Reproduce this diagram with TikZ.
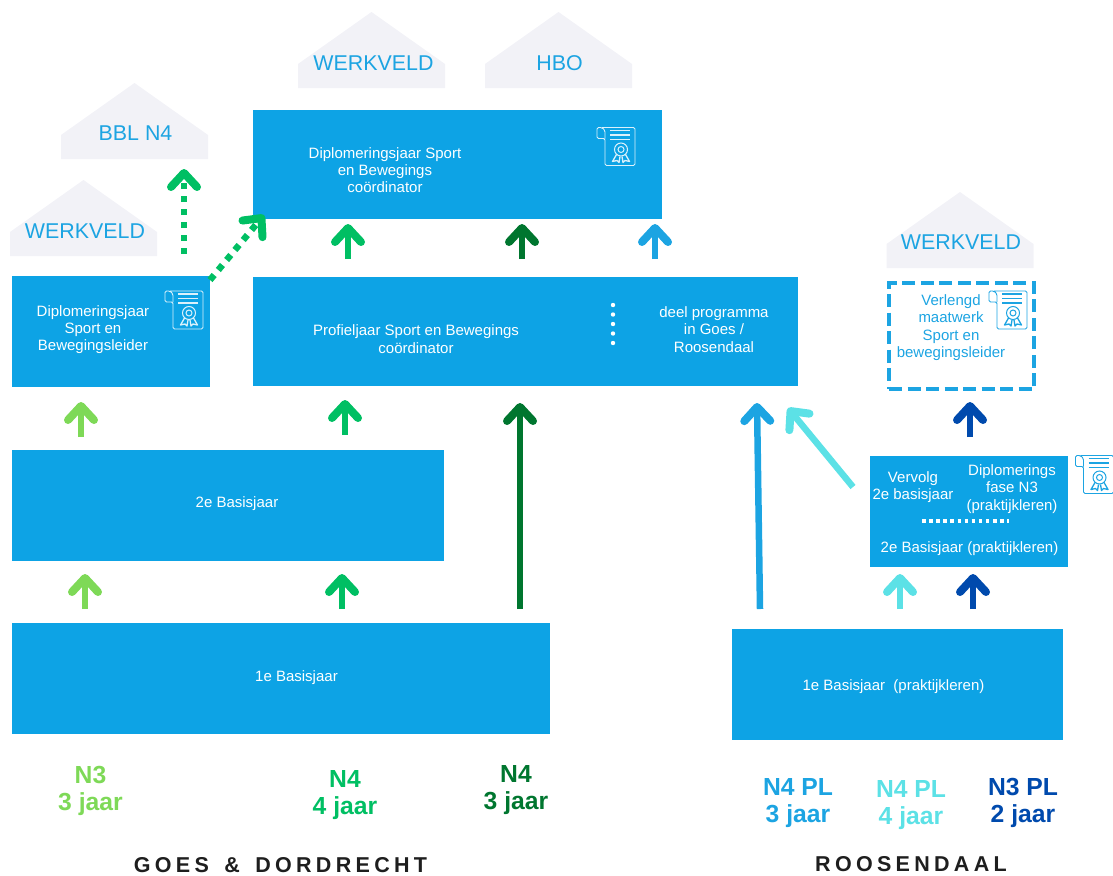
\documentclass[tikz,border=0pt]{standalone}
\usepackage{fontspec}
\setmainfont{Liberation Sans}
\newfontfamily\titlefont[LetterSpace=20,WordSpace=1.5]{Liberation Sans}
\usetikzlibrary{arrows.meta}

\definecolor{boxblue}{HTML}{0DA3E5}
\definecolor{housegrey}{HTML}{F2F2F7}
\definecolor{labelblue}{HTML}{1CA4E2}
\definecolor{ltgreen}{HTML}{7ED957}
\definecolor{midgreen}{HTML}{00BF63}
\definecolor{darkgreen}{HTML}{00762F}
\definecolor{ltcyan}{HTML}{5CE1E6}
\definecolor{navy}{HTML}{004AAD}
\definecolor{titledark}{HTML}{1E1E1E}

\tikzset{
  fase/.style={fill=boxblue,inner sep=0pt,text=white,align=center},
  fasetext/.style={text=white,align=center,font=\fontsize{15}{17.3}\selectfont},
  dest/.style={text=labelblue,font=\fontsize{21.4}{25}\selectfont},
  route/.style={align=center,font=\bfseries\fontsize{24.7}{27}\selectfont},
  region/.style={text=titledark,inner sep=0pt,font=\titlefont\bfseries\fontsize{21.5}{26}\selectfont},
  flow/.style={line width=6.5pt,-{Straight Barb[length=14pt,width=26pt,line width=8pt,round]}},
  dotflow/.style={flow,dash pattern=on 6.5pt off 6.5pt},
  house/.pic={
    \fill[housegrey] (-73.5,38) -- (-73.5,14) -- (0,-38) -- (73.5,14) -- (73.5,38) -- cycle;
  },
  diploma/.pic={
    \draw[line width=0.9pt,rounded corners=1.5pt] (-14,-19) -- (19,-19) -- (19,19) -- (-11,19) -- (-11,-8) -- (-19,-8) -- (-19,-19) -- (-14,-19) -- (-11,-16) -- (-11,-8);
    \draw[line width=1.1pt] (-6,-16) -- (14,-16) (-6,-11.5) -- (14,-11.5) (-6,-7) -- (14,-7);
    \draw[line width=1pt] (5,3) circle (6.5pt) (5,3) circle (3pt);
    \draw[line width=1.3pt,line join=round] (0.5,8) -- (-3.5,15) -- (1,14) -- (3,16) -- (4,10);
    \draw[line width=1.3pt,line join=round] (9.5,8) -- (13.5,15) -- (9,14) -- (7,16) -- (6,10);
  },
}

\begin{document}
\begin{tikzpicture}[x=1pt,y=-1pt]
\useasboundingbox (0,0) rectangle (1113,875);

% bestemmingen
\pic at (83.5,218) {house};
\pic at (134.5,121) {house};
\pic at (371.5,50) {house};
\pic at (558.5,50) {house};
\pic at (960,230) {house};
\node[dest] (werkveldA) at (85,231.5) {WERKVELD};
\node[dest] (bbl) at (135.5,133.5) {BBL N4};
\node[dest] (werkveldB) at (373.5,63.5) {WERKVELD};
\node[dest] (hbo) at (559.5,63.5) {HBO};
\node[dest] (werkveldC) at (961,242.5) {WERKVELD};

% blokken
\node[fase,minimum width=409pt,minimum height=109pt] (diplCo) at (457.5,164.5) {};
\node[fase,minimum width=545pt,minimum height=109pt] (profiel) at (525.5,331.5) {};
\node[fase,minimum width=198pt,minimum height=111pt] (diplLeider) at (111,331.5) {};
\node[fase,minimum width=432pt,minimum height=111pt] (basisB) at (228,505.5) {};
\node[fase,minimum width=538pt,minimum height=111pt] (basisA) at (281,678.5) {};
\node[fase,minimum width=331pt,minimum height=111pt] (praktA) at (897.5,684.5) {};
\node[fase,minimum width=198pt,minimum height=111pt] (praktB) at (969,511.5) {};
\node[draw=labelblue,line width=4pt,dash pattern=on 13pt off 5.5pt,minimum width=145pt,minimum height=106pt,inner sep=0pt] (maatwerk) at (961.5,336) {};

% teksten in de blokken
\node[fasetext] (diplCoText) at (385,170) {Diplomeringsjaar Sport\\en Bewegings\\coördinator};
\node[fasetext] (profielText) at (416,339) {Profieljaar Sport en Bewegings\\coördinator};
\node[fasetext] (deelText) at (714,329.5) {deel programma\\in Goes /\\Roosendaal};
\node[fasetext] (diplLeiderText) at (93,329.5) {Diplomeringsjaar\\Sport en\\Bewegingsleider};
\node[fasetext] (basisBText) at (237,504) {2e Basisjaar};
\node[fasetext] (basisAText) at (296.5,677.5) {1e Basisjaar};
\node[fasetext] (praktAText) at (893.5,687) {1e Basisjaar~~(praktijkleren)};
\node[fasetext] (vervolgText) at (913,487) {Vervolg\\2e basisjaar};
\node[fasetext] (faseText) at (1012,489) {Diplomerings\\fase N3\\(praktijkleren)};
\node[fasetext] (praktBText) at (969.5,549) {2e Basisjaar (praktijkleren)};
\node[fasetext,text=labelblue] (maatwerkText) at (951,327.5) {Verlengd\\maatwerk\\Sport en\\bewegingsleider};

% diploma's
\pic[color=white!85!boxblue] at (184,310) {diploma};
\pic[color=white!85!boxblue] at (616,146.5) {diploma};
\pic[color=labelblue] at (1008,310) {diploma};
\pic[color=labelblue] at (1094.5,474.5) {diploma};

% stippels in de blokken
\coordinate (stipA) at (613,305);
\coordinate (stipB) at (613,347);
\draw[white,line width=4.4pt,line cap=round,dash pattern=on 0pt off 9.5pt] (stipA) -- (stipB);
\coordinate (stipC) at (922,521);
\coordinate (stipD) at (1009,521);
\draw[white,line width=3.5pt,dash pattern=on 3.5pt off 3.6pt] (stipC) -- (stipD);

% pijlen
\coordinate (a1) at (85,609);   \coordinate (a2) at (85,574);
\draw[flow,ltgreen] (a1) -- (a2);
\coordinate (b1) at (81,437);   \coordinate (b2) at (81,402);
\draw[flow,ltgreen] (b1) -- (b2);
\coordinate (c1) at (342,609);  \coordinate (c2) at (342,574);
\draw[flow,midgreen] (c1) -- (c2);
\coordinate (d1) at (345,435);  \coordinate (d2) at (345,400);
\draw[flow,midgreen] (d1) -- (d2);
\coordinate (e1) at (520,609);  \coordinate (e2) at (520,403);
\draw[flow,darkgreen] (e1) -- (e2);
\coordinate (f1) at (348,259);  \coordinate (f2) at (348,224);
\draw[flow,midgreen] (f1) -- (f2);
\coordinate (g1) at (522,259);  \coordinate (g2) at (522,224);
\draw[flow,darkgreen] (g1) -- (g2);
\coordinate (h1) at (655,259);  \coordinate (h2) at (655,224);
\draw[flow,labelblue] (h1) -- (h2);
\coordinate (i1) at (760,609);  \coordinate (i2) at (757,403);
\draw[flow,labelblue] (i1) -- (i2);
\coordinate (j1) at (853,487);  \coordinate (j2) at (788,408);
\draw[flow,ltcyan] (j1) -- (j2);
\coordinate (k1) at (900,609);  \coordinate (k2) at (900,574);
\draw[flow,ltcyan] (k1) -- (k2);
\coordinate (l1) at (973,609);  \coordinate (l2) at (973,574);
\draw[flow,navy] (l1) -- (l2);
\coordinate (m1) at (970,437);  \coordinate (m2) at (970,402);
\draw[flow,navy] (m1) -- (m2);
\coordinate (n1) at (184,254);  \coordinate (n2) at (184,169);
\draw[dotflow,midgreen] (n1) -- (n2);
\coordinate (o1) at (210,280);  \coordinate (o2) at (264,215);
\draw[dotflow,midgreen] (o1) -- (o2);

% routes
\node[route,text=ltgreen] (routeA) at (90.5,790.5) {N3\\3 jaar};
\node[route,text=midgreen] (routeB) at (345,795.5) {N4\\4 jaar};
\node[route,text=darkgreen] (routeC) at (516,790.5) {N4\\3 jaar};
\node[route,text=labelblue] (routeD) at (798,803.5) {N4 PL\\3 jaar};
\node[route,text=ltcyan] (routeE) at (911,805.5) {N4 PL\\4 jaar};
\node[route,text=navy] (routeF) at (1023,803) {N3 PL\\2 jaar};

\node[region] (goes) at (280.5,865) {GOES \& DORDRECHT};
\node[region] (roosendaal) at (911,864) {ROOSENDAAL};

\end{tikzpicture}
\end{document}
